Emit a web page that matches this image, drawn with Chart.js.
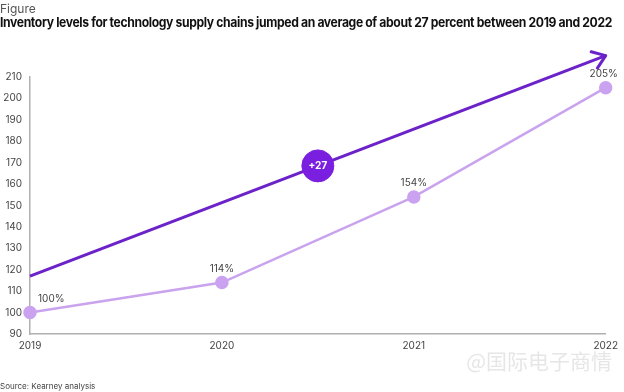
<!DOCTYPE html>
<html>
<head>
<meta charset="utf-8">
<script src="https://cdn.jsdelivr.net/npm/chart.js@4"></script>
<style>
  html, body { margin: 0; padding: 0; background: #fff; }
  #wrap { width: 624px; height: 392px; position: relative; }
</style>
</head>
<body>
<div id="wrap"><canvas id="chart" width="624" height="392"></canvas></div>
<script>
const years = [2019, 2020, 2021, 2022];
const inventory = [100, 114, 154, 205];
const inventoryLabels = ['100%', '114%', '154%', '205%'];
const trendYears = [2019, 2022];
const trendValues = [117, 220];
const badgeYear = [2020.5];
const badgeValue = [168.5];
const badgeText = '+27';
const yTicks = { min: 90, max: 210, step: 10 };

const figureLabel = 'Figure';
const titleText = 'Inventory levels for technology supply chains jumped an average of about 27 percent between 2019 and 2022';
const sourceText = 'Source: Kearney analysis';
const watermarkText = '@国际电子商情';

const FONT = 'Inter, "Noto Sans", sans-serif';

// texts, arrow head, badge label and value labels
const decor = {
    id: 'decor',
    afterDatasetsDraw(chart) {
        const ctx = chart.ctx;
        const x = chart.scales.x, y = chart.scales.y;

        // arrow head at the end of the trend line
        const x0 = x.getPixelForValue(trendYears[0]), y0 = y.getPixelForValue(trendValues[0]);
        const x1 = x.getPixelForValue(trendYears[1]), y1 = y.getPixelForValue(trendValues[1]);
        const ang = Math.atan2(y1 - y0, x1 - x0);
        ctx.save();
        ctx.strokeStyle = '#6c22c9';
        ctx.lineWidth = 3;
        ctx.lineCap = 'round';
        ctx.lineJoin = 'round';
        ctx.beginPath();
        ctx.moveTo(x1 + 15 * Math.cos(ang + Math.PI - 0.62), y1 + 15 * Math.sin(ang + Math.PI - 0.62));
        ctx.lineTo(x1, y1);
        ctx.lineTo(x1 + 15 * Math.cos(ang + Math.PI + 0.62), y1 + 15 * Math.sin(ang + Math.PI + 0.62));
        ctx.stroke();

        // badge text
        ctx.fillStyle = '#fff';
        ctx.font = 'bold 10px ' + FONT;
        ctx.textAlign = 'center';
        ctx.textBaseline = 'middle';
        ctx.fillText(badgeText, x.getPixelForValue(badgeYear[0]), y.getPixelForValue(badgeValue[0]));

        // value labels
        ctx.fillStyle = '#444';
        ctx.font = '10px ' + FONT;
        ctx.textBaseline = 'bottom';
        inventory.forEach((v, i) => {
            let px = x.getPixelForValue(years[i]);
            const py = y.getPixelForValue(v) - 9;
            if (i === 0) { ctx.textAlign = 'left'; px += 8; }
            else ctx.textAlign = 'center';
            ctx.fillText(inventoryLabels[i], i === 3 ? px - 2 : px, py);
        });

        // header and footer
        ctx.textAlign = 'left';
        ctx.textBaseline = 'alphabetic';
        ctx.fillStyle = '#555';
        ctx.font = '12px ' + FONT;
        ctx.fillText(figureLabel, 0, 13);
        ctx.fillStyle = '#111';
        ctx.font = 'bold 13px ' + FONT;
        ctx.letterSpacing = '-0.4px';
        ctx.fillText(titleText, 0, 27, 612);
        ctx.letterSpacing = '0px';
        ctx.fillStyle = '#444';
        ctx.font = '8px ' + FONT;
        ctx.fillText(sourceText, 0, 389);

        // watermark
        ctx.fillStyle = 'rgba(200,200,200,0.45)';
        ctx.font = '21px "Noto Sans CJK SC"';
        ctx.textAlign = 'right';
        ctx.textBaseline = 'middle';
        ctx.fillText(watermarkText, 612, 361);
        ctx.restore();
    }
};

new Chart(document.getElementById('chart'), {
    type: 'line',
    data: {
        datasets: [
            {
                label: 'badge',
                data: badgeYear.map((yr, i) => ({ x: yr, y: badgeValue[i] })),
                showLine: false,
                pointRadius: 16,
                pointBackgroundColor: '#7a1fe0',
                pointBorderColor: '#7a1fe0',
                order: 0
            },
            {
                label: 'trend',
                data: trendYears.map((yr, i) => ({ x: yr, y: trendValues[i] })),
                borderColor: '#6c22c9',
                borderWidth: 3,
                pointRadius: 0,
                clip: false,
                order: 1
            },
            {
                label: 'inventory',
                data: years.map((yr, i) => ({ x: yr, y: inventory[i] })),
                borderColor: '#c9a3ee',
                borderWidth: 2.5,
                pointRadius: 5.5,
                pointBackgroundColor: '#caa2f0',
                pointBorderColor: '#caa2f0',
                clip: false,
                order: 2
            }
        ]
    },
    options: {
        responsive: false,
        animation: false,
        layout: { padding: { top: 77, right: 18, left: 0, bottom: 0 } },
        plugins: {
            legend: { display: false },
            tooltip: { enabled: false }
        },
        scales: {
            x: {
                type: 'linear',
                min: years[0],
                max: years[years.length - 1],
                grid: { display: false, drawTicks: false },
                border: { color: '#b0b0b0', width: 1.5 },
                ticks: {
                    stepSize: 1,
                    callback: v => String(v),
                    color: '#444',
                    font: { size: 10, family: FONT },
                    padding: 6,
                    maxRotation: 0
                },
                afterFit: s => { s.height = 58; }
            },
            y: {
                min: yTicks.min,
                max: yTicks.max,
                grid: { display: false, drawTicks: false },
                border: { color: '#b0b0b0', width: 1.5 },
                ticks: {
                    stepSize: yTicks.step,
                    color: '#444',
                    font: { size: 10, family: FONT },
                    padding: 8
                },
                afterFit: s => { s.width = 30; }
            }
        }
    },
    plugins: [decor]
});
</script>
</body>
</html>
